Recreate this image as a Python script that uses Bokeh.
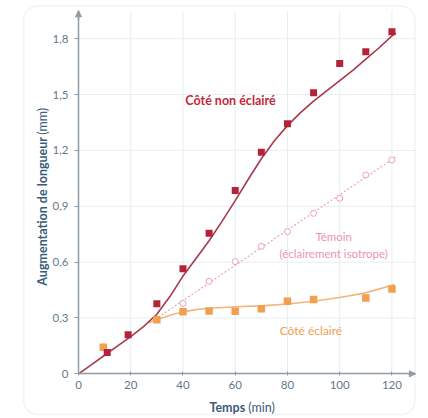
from bokeh.plotting import figure
from bokeh.embed import file_html
from bokeh.resources import INLINE
from bokeh.core.properties import value
from bokeh.models import (Range1d, FixedTicker, BoxAnnotation, Label, Arrow, NormalHead,
                          LinearAxis)
import math

# --- data ---
t_dark = [11, 19, 30, 40, 50, 60, 70, 80, 90, 100, 110, 120]
v_dark = [0.115, 0.21, 0.376, 0.565, 0.755, 0.985, 1.19, 1.343, 1.51, 1.667, 1.73, 1.837]

t_dark_fit = [0, 5, 10, 15, 20, 25, 30, 35, 40, 45, 50, 55, 60, 65, 70, 75, 80, 85, 90, 95, 100, 105, 110, 115, 120, 121.5]
v_dark_fit = [0, 0.05, 0.10, 0.15, 0.20, 0.255, 0.32, 0.415, 0.525, 0.62, 0.715, 0.82, 0.93, 1.045, 1.155, 1.252, 1.333, 1.403, 1.465, 1.52, 1.575, 1.63, 1.69, 1.75, 1.815, 1.83]

t_ctrl = [40, 50, 60, 70, 80, 90, 100, 110, 120]
v_ctrl = [0.379, 0.497, 0.603, 0.685, 0.764, 0.862, 0.943, 1.068, 1.149]
t_ctrl_fit = [28, 122]
v_ctrl_fit = [0.28, 1.17]

t_lit = [9.5, 30, 40, 50, 60, 70, 80, 90, 110, 120]
v_lit = [0.143, 0.29, 0.334, 0.338, 0.336, 0.35, 0.39, 0.399, 0.408, 0.456]
t_lit_fit = [27, 30, 35, 40, 45, 50, 60, 70, 80, 90, 100, 110, 115, 121]
v_lit_fit = [0.275, 0.29, 0.315, 0.333, 0.345, 0.352, 0.36, 0.365, 0.375, 0.39, 0.41, 0.435, 0.455, 0.48]

x_ticks = [0, 20, 40, 60, 80, 100, 120]
y_ticks = [0, 0.3, 0.6, 0.9, 1.2, 1.5, 1.8]
y_tick_labels = ["0", "0,3", "0,6", "0,9", "1,2", "1,5", "1,8"]

x_max = 129
y_max = 1.95

label_dark = "Côté non éclairé"
label_ctrl = ["Témoin", "(éclairement isotrope)"]
label_lit = "Côté éclairé"
x_title = ["Temps", "(min)"]
y_title = ["Augmentation de longueur", "(mm)"]

FONT = "Lato"
RED = "#b3243a"
RED_LINE = "#a63a4c"
ORANGE = "#f0a04e"
ORANGE_LINE = "#f3b67a"
PINK = "#eaa2b6"
AXIS = "#8e9ca8"
TICKTXT = "#5f7a8e"
TITLE = "#3b5d7a"
GRID = "#e8edf0"

p = figure(width=418, height=416, output_backend="svg", toolbar_location=None,
           x_range=Range1d(-29.86, 130.17), y_range=Range1d(-0.229, 2.005),
           x_axis_location=None, y_axis_location=None,
           min_border=0)
p.outline_line_color = None
p.background_fill_color = "white"
p.xgrid.visible = False
p.ygrid.visible = False

# rounded frame around the chart
p.add_layout(BoxAnnotation(left=-21.0, right=128.8, top=1.975, bottom=-0.218,
                           fill_color=None, line_color="#cfd8de", line_width=1.5,
                           border_radius=14, level="underlay"))

# light grid from the tick lists
p.segment(x0=x_ticks[1:], y0=[0] * (len(x_ticks) - 1), x1=x_ticks[1:], y1=[y_max] * (len(x_ticks) - 1),
          line_color=GRID, line_width=1, level="underlay")
p.segment(x0=[0] * (len(y_ticks) - 1), y0=y_ticks[1:], x1=[x_max] * (len(y_ticks) - 1), y1=y_ticks[1:],
          line_color=GRID, line_width=1, level="underlay")

xaxis = LinearAxis(fixed_location=0, ticker=FixedTicker(ticks=x_ticks), bounds=(0, x_max))
yaxis = LinearAxis(fixed_location=0, ticker=FixedTicker(ticks=y_ticks), bounds=(0, y_max),
                   major_label_overrides={t: s for t, s in zip(y_ticks, y_tick_labels)})
for ax in (xaxis, yaxis):
    ax.axis_line_color = AXIS
    ax.axis_line_width = 1.5
    ax.major_tick_line_color = AXIS
    ax.minor_tick_line_color = None
    ax.major_label_text_font = FONT
    ax.major_label_text_font_size = "11.5px"
    ax.major_label_text_color = TICKTXT
xaxis.major_tick_in = 2
xaxis.major_tick_out = 2
yaxis.major_tick_in = 0
yaxis.major_tick_out = 4
xaxis.major_label_standoff = 5
yaxis.major_label_standoff = 6
p.add_layout(xaxis, "below")
p.add_layout(yaxis, "left")

# axis arrows
p.add_layout(Arrow(end=NormalHead(size=6, fill_color=AXIS, line_color=AXIS),
                   x_start=x_max - 3, y_start=0, x_end=x_max, y_end=0, line_color=AXIS, line_width=1.5))
p.add_layout(Arrow(end=NormalHead(size=6, fill_color=AXIS, line_color=AXIS),
                   x_start=0, y_start=y_max - 0.05, x_end=0, y_end=y_max, line_color=AXIS, line_width=1.5))

# fitted curves
p.line(t_ctrl_fit, v_ctrl_fit, line_color=PINK, line_width=1.2, line_dash="2 2")
p.line(t_lit_fit, v_lit_fit, line_color=ORANGE_LINE, line_width=1.6)
p.line(t_dark_fit, v_dark_fit, line_color=RED_LINE, line_width=1.6)

# points
p.scatter(t_ctrl, v_ctrl, marker="circle", size=6, line_color=PINK, fill_color="white", line_width=1)
p.scatter(t_lit, v_lit, marker="square", size=7.5, line_color=None, fill_color=ORANGE)
p.scatter(t_dark, v_dark, marker="square", size=7, line_color=None, fill_color=RED)

# series labels
p.text(x=[58.2], y=[1.467], text=[label_dark], text_font=value(FONT), text_font_style="bold",
       text_font_size="12.5px", text_color="#c2283c", text_align="center", text_baseline="middle")
p.text(x=[97.7, 97.7], y=[0.735, 0.648], text=label_ctrl, text_font=value(FONT),
       text_font_size="11.5px", text_color="#ea94ac", text_align="center", text_baseline="middle")
p.text(x=[89.0], y=[0.232], text=[label_lit], text_font=value(FONT),
       text_font_size="12px", text_color=ORANGE, text_align="center", text_baseline="middle")

# axis titles (bold + regular parts)
p.add_layout(Label(x=63.8, y=-0.182, text=x_title[0], text_font=FONT, text_font_style="bold",
                   text_font_size="12.5px", text_color=TITLE, text_align="right", text_baseline="middle"))
p.add_layout(Label(x=65.0, y=-0.182, text=x_title[1], text_font=FONT,
                   text_font_size="12.5px", text_color=TITLE, text_align="left", text_baseline="middle"))
p.add_layout(Label(x=-13.8, y=1.272, text=y_title[0], text_font=FONT, text_font_style="bold",
                   text_font_size="12.5px", text_color=TITLE, text_align="right", text_baseline="middle",
                   angle=math.pi / 2))
p.add_layout(Label(x=-13.8, y=1.284, text=y_title[1], text_font=FONT,
                   text_font_size="12.5px", text_color=TITLE, text_align="left", text_baseline="middle",
                   angle=math.pi / 2))

open("out.html", "w").write(file_html(p, INLINE))
